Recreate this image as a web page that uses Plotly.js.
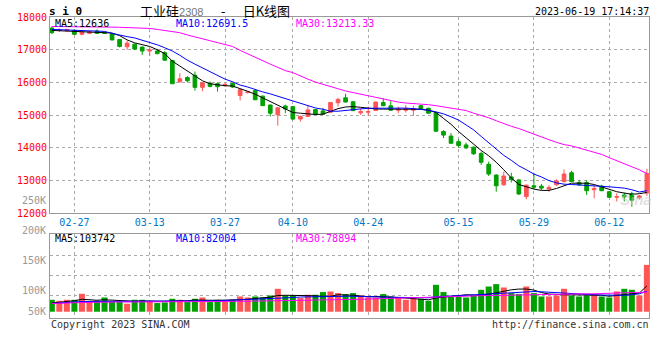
<!DOCTYPE html>
<html><head><meta charset="utf-8">
<script src="https://cdn.plot.ly/plotly-3.0.1.min.js"></script>
<style>html,body{margin:0;padding:0;background:#fff}#chart{width:660px;height:360px}</style>
</head><body><div id="chart"></div>
<script>
const dates = ['02-22','02-23','02-24','02-27','02-28','03-01','03-02','03-03','03-06','03-07','03-08','03-09','03-10','03-13','03-14','03-15','03-16','03-17','03-20','03-21','03-22','03-23','03-24','03-27','03-28','03-29','03-30','03-31','04-03','04-04','04-06','04-07','04-10','04-11','04-12','04-13','04-14','04-17','04-18','04-19','04-20','04-21','04-24','04-25','04-26','04-27','04-28','05-04','05-05','05-08','05-09','05-10','05-11','05-12','05-15','05-16','05-17','05-18','05-19','05-22','05-23','05-24','05-25','05-26','05-29','05-30','05-31','06-01','06-02','06-05','06-06','06-07','06-08','06-09','06-12','06-13','06-14','06-15','06-16','06-19'];
const openP  = [17660,17590,17580,17590,17470,17500,17570,17530,17480,17310,17090,17170,17080,16960,16960,16910,16670,16020,16150,16220,15850,15980,15960,15900,15970,15600,15690,15750,15580,15310,15010,15280,15260,14880,14960,15170,15130,15090,15380,15530,15410,15070,15090,15140,15385,15285,15150,15150,15150,15290,15210,15070,14500,14360,14190,14090,14020,13830,13500,13170,12870,13110,13020,12510,12840,12830,12740,12870,12970,13240,12940,12940,12720,12830,12660,12490,12560,12600,12470,12620];
const highP  = [17700,17650,17640,17620,17580,17570,17620,17560,17500,17330,17280,17190,17100,17060,17020,16960,16690,16280,16190,16330,16010,16030,16000,15990,15990,15810,15740,15770,15600,15320,15240,15320,15280,14990,15300,15190,15220,15400,15530,15650,15420,15210,15260,15410,15520,15430,15260,15310,15290,15310,15230,15090,14540,14450,14260,14160,14040,13880,13580,13190,13270,13240,13040,12880,13240,12900,12860,13040,13340,13300,13020,13010,12870,12870,12680,12610,12630,12660,12560,13360];
const lowP   = [17480,17540,17560,17450,17440,17480,17480,17490,17280,17070,17000,16990,16840,16810,16860,16660,15950,15990,16000,15750,15730,15850,15720,15870,15840,15450,15660,15460,15280,14960,14680,15060,14850,14800,14950,15000,15010,15080,15265,15390,15120,15010,14980,15130,15270,15130,15060,15080,14980,15170,15040,14490,14300,14130,14010,13960,13780,13480,13140,12660,12840,12940,12560,12430,12730,12710,12660,12840,12940,12960,12840,12560,12460,12680,12470,12360,12360,12200,12420,12530];
const closeP = [17520,17610,17610,17470,17540,17550,17500,17500,17300,17100,17200,17020,16960,16990,16880,16680,15960,16110,16050,15850,15990,15880,15870,15930,15860,15780,15710,15470,15290,15060,15225,15190,14880,14960,15160,15020,15030,15385,15480,15400,15140,15110,15110,15400,15290,15150,15180,15200,15200,15185,15060,14510,14390,14140,14070,14000,13820,13560,13200,12840,13140,13030,12590,12860,12800,12770,12790,12990,13200,12970,12870,12690,12760,12690,12490,12510,12500,12400,12530,13220];
const ma5  = [17590,17580,17570,17565,17555,17545,17530,17520,17510,17430,17300,17210,17150,17100,17000,16880,16650,16500,16330,16180,16050,15960,15920,15900,15890,15820,15730,15640,15530,15400,15290,15180,15080,15060,15040,15020,15030,15110,15200,15250,15260,15240,15210,15190,15185,15185,15180,15180,15180,15180,15150,15080,14900,14720,14500,14300,14110,13920,13760,13560,13330,13080,12880,12800,12740,12700,12700,12760,12850,12920,12920,12920,12880,12800,12720,12660,12620,12580,12600,12636];
const ma10 = [17620,17610,17600,17590,17580,17570,17565,17560,17500,17440,17400,17360,17290,17240,17150,17060,16960,16830,16680,16560,16450,16330,16220,16100,16020,15920,15860,15780,15710,15650,15580,15510,15450,15360,15290,15220,15180,15120,15120,15150,15170,15190,15210,15215,15215,15215,15215,15215,15200,15180,15150,15100,15040,14950,14850,14700,14550,14350,14150,13950,13770,13620,13450,13330,13200,13110,13000,12930,12890,12880,12870,12860,12850,12830,12810,12790,12770,12720,12650,12691.5];
const ma30 = [17710,17710,17710,17705,17705,17700,17700,17695,17690,17685,17680,17675,17665,17650,17620,17590,17555,17520,17450,17390,17330,17270,17210,17140,17100,16980,16870,16760,16660,16560,16460,16360,16300,16190,16100,16010,15940,15860,15800,15740,15690,15640,15600,15550,15500,15440,15400,15370,15355,15345,15320,15290,15250,15200,15170,15140,15060,15000,14920,14830,14740,14660,14590,14500,14420,14340,14250,14170,14100,14060,14000,13940,13880,13800,13700,13610,13520,13420,13330,13213.33];
const volume = [48000,44000,48000,48000,72000,38800,44000,57200,41200,41200,32000,48000,48000,44000,34800,37200,52000,48000,38800,52000,57200,38800,48000,41200,48000,61200,57200,61200,57200,65200,92000,65200,65200,54800,68000,68000,78800,81200,74800,70800,74800,65200,57200,57200,70800,61200,57200,48000,57200,52000,44000,108000,78800,61200,61200,57200,65200,88000,101200,110800,97200,74800,70800,101200,74800,61200,61200,65200,92000,65200,61200,65200,70800,61200,57200,81200,92000,88000,65200,188000];
const volMa5  = [35000,38000,41000,44000,50000,48000,46000,48000,46000,44000,42000,42000,43000,44000,42000,42000,42000,44000,44000,47000,48000,46000,46000,46000,46000,48000,50000,54000,56000,58000,65000,66000,66000,65000,64000,64000,62000,62000,68000,68000,66000,63000,60000,61000,61000,59000,57000,54000,53000,51000,48000,55000,58000,64000,66000,68000,67000,66000,70000,77000,84000,88000,91000,91000,87000,77000,71000,68000,68000,68000,68000,68000,68000,66000,62000,66000,70000,72000,75000,103742];
const volMa10 = [33000,34000,37000,39000,41000,41000,41000,42000,42000,42000,42000,42000,42000,42000,42000,42000,42000,43000,43000,44000,44000,44000,44000,45000,46000,47000,48000,49000,50000,51000,53000,55000,57000,59000,60000,61000,62000,62000,62000,62000,62000,62000,61000,60000,59000,58000,58000,57000,57000,56000,56000,60000,62000,63000,64000,65000,67000,69000,71000,73000,75000,77000,79000,80000,81000,80000,78000,76000,74000,72000,70000,69000,68000,67000,66000,66000,66000,68000,72000,82004];
const volMa30 = [33000,33000,35000,36000,37000,38000,38000,38000,38000,39000,39000,39000,40000,40000,40000,40000,40000,40000,40000,40000,41000,41000,41000,41000,41000,42000,42000,43000,43000,44000,44000,45000,45000,46000,46000,47000,47000,48000,48000,49000,49000,50000,51000,52000,53000,54000,55000,56000,57000,58000,59000,60000,61000,61000,62000,62000,63000,64000,65000,65000,66000,66000,67000,68000,68000,69000,69000,70000,70000,71000,71000,72000,72000,73000,73000,74000,75000,76000,77000,78894];
const tickDates = ['02-27','03-13','03-27','04-10','04-24','05-15','05-29','06-12'];
const priceTicks = [12000,13000,14000,15000,16000,17000,18000];
const volTickLabels = ['250K','200K','150K','100K','50K'];

const RED = '#ff5555', GREEN = '#00a000';
const MONO = 'DejaVu Sans Mono';
const volColors = closeP.map((c, i) => c >= openP[i] ? RED : GREEN);

const traces = [
  {type:'candlestick', x:dates, open:openP, high:highP, low:lowP, close:closeP, xaxis:'x', yaxis:'y',
   increasing:{line:{color:RED,width:1}, fillcolor:RED}, decreasing:{line:{color:GREEN,width:1}, fillcolor:GREEN},
   whiskerwidth:0, hoverinfo:'skip', showlegend:false},
  {type:'scatter', mode:'lines', x:dates, y:ma5, xaxis:'x', yaxis:'y', line:{color:'#000000',width:1}, hoverinfo:'skip'},
  {type:'scatter', mode:'lines', x:dates, y:ma10, xaxis:'x', yaxis:'y', line:{color:'#0000ff',width:1}, hoverinfo:'skip'},
  {type:'scatter', mode:'lines', x:dates, y:ma30, xaxis:'x', yaxis:'y', line:{color:'#ff00ff',width:1}, hoverinfo:'skip'},
  {type:'bar', x:dates, y:volume, xaxis:'x2', yaxis:'y2', marker:{color:volColors, line:{width:0}}, hoverinfo:'skip'},
  {type:'scatter', mode:'lines', x:dates, y:volMa5, xaxis:'x2', yaxis:'y2', line:{color:'#000000',width:1}, hoverinfo:'skip'},
  {type:'scatter', mode:'lines', x:dates, y:volMa10, xaxis:'x2', yaxis:'y2', line:{color:'#0000ff',width:1}, hoverinfo:'skip'},
  {type:'scatter', mode:'lines', x:dates, y:volMa30, xaxis:'x2', yaxis:'y2', line:{color:'#ff00ff',width:1}, hoverinfo:'skip'}
];

const L = 50, R = 649, T = 17, B = 318;
const px = x => (x - L) / (R - L);
const py = y => (B - y) / (B - T);
function ann(text, x, y, xanchor, color, size, extra) {
  return Object.assign({text:text, xref:'paper', yref:'paper', x:px(x), y:py(y), xanchor:xanchor, yanchor:'middle',
    showarrow:false, font:{family:MONO, size:size||10, color:color||'#000'}}, extra||{});
}
const volLabelY = [200.5, 230.7, 260, 290.7, 311];
const annotations = [
  ann('<b>s i 0</b>', 47, 11, 'left', '#000', 11),
  ann('<span style="font-family:Noto Sans CJK SC">工业硅</span><span style="color:#777;font-size:11px;font-family:Liberation Sans">2308</span>  -  <span style="font-family:Noto Sans CJK SC">日K线图</span>', 138, 10.5, 'left', '#000', 13),
  ann('2023-06-19 17:14:37', 651, 11.5, 'right', '#000', 10),
  ann('MA5:12636', 53, 23.5, 'left', '#000', 10),
  ann('MA10:12691.5', 174, 23.5, 'left', '#0000ff', 10),
  ann('MA30:13213.33', 294, 23.5, 'left', '#ff00ff', 10),
  ann('MA5:103742', 53, 238.5, 'left', '#000', 10),
  ann('MA10:82004', 174, 238.5, 'left', '#0000ff', 10),
  ann('MA30:78894', 294, 238.5, 'left', '#ff00ff', 10),
  ann('Copyright 2023 SINA.COM', 49, 324, 'left', '#333', 10),
  ann('http://finance.sina.com.cn', 651, 324, 'right', '#333', 10),
  ann('<i><b>Sina</b></i>', 636, 199, 'center', 'rgba(200,200,200,0.6)', 15, {font:{family:'Liberation Sans', size:15, color:'rgba(200,200,200,0.55)'}})
].concat(volTickLabels.map((t, i) => ann(t, 47.5, volLabelY[i], 'right', '#999', 10)));

const gridC = '#aaaaaa', lineC = '#999999';
const layout = {
  width:660, height:360, margin:{l:L, r:660-R, t:T, b:360-B, pad:0},
  paper_bgcolor:'#fff', plot_bgcolor:'#fff', showlegend:false, bargap:0.2,
  xaxis:{type:'category', domain:[0,1], anchor:'y', range:[-0.24,79.28], tickmode:'array', tickvals:tickDates, ticktext:tickDates,
    showgrid:true, gridcolor:gridC, griddash:'dot', gridwidth:1, showline:true, mirror:true, linecolor:lineC, linewidth:1,
    ticks:'', tickfont:{family:MONO, size:10, color:'#0078c8'}, rangeslider:{visible:false}, zeroline:false, fixedrange:true},
  yaxis:{domain:[py(213.3),1], anchor:'x', range:[12000,18000], tickmode:'array', tickvals:priceTicks, ticktext:priceTicks.map(String),
    showgrid:true, gridcolor:gridC, griddash:'dot', gridwidth:1, showline:true, mirror:true, linecolor:lineC, linewidth:1,
    ticks:'', tickfont:{family:MONO, size:10, color:'#ff0000'}, zeroline:false, fixedrange:true},
  xaxis2:{type:'category', domain:[0,1], anchor:'y2', matches:'x', range:[-0.24,79.28], tickmode:'array', tickvals:tickDates,
    showticklabels:false, showgrid:true, gridcolor:gridC, griddash:'dot', gridwidth:1, showline:true, mirror:true, linecolor:lineC, linewidth:1,
    ticks:'', rangeslider:{visible:false}, zeroline:false, fixedrange:true},
  yaxis2:{domain:[0,py(234.3)], anchor:'x2', range:[-25200,310800], tickmode:'array', tickvals:[65200,145200,225200],
    showticklabels:false, showgrid:true, gridcolor:gridC, griddash:'dot', gridwidth:1, showline:true, mirror:true, linecolor:lineC, linewidth:1,
    ticks:'', zeroline:false, fixedrange:true},
  annotations:annotations
};
Plotly.newPlot('chart', traces, layout, {displayModeBar:false, staticPlot:true});
</script></body></html>
